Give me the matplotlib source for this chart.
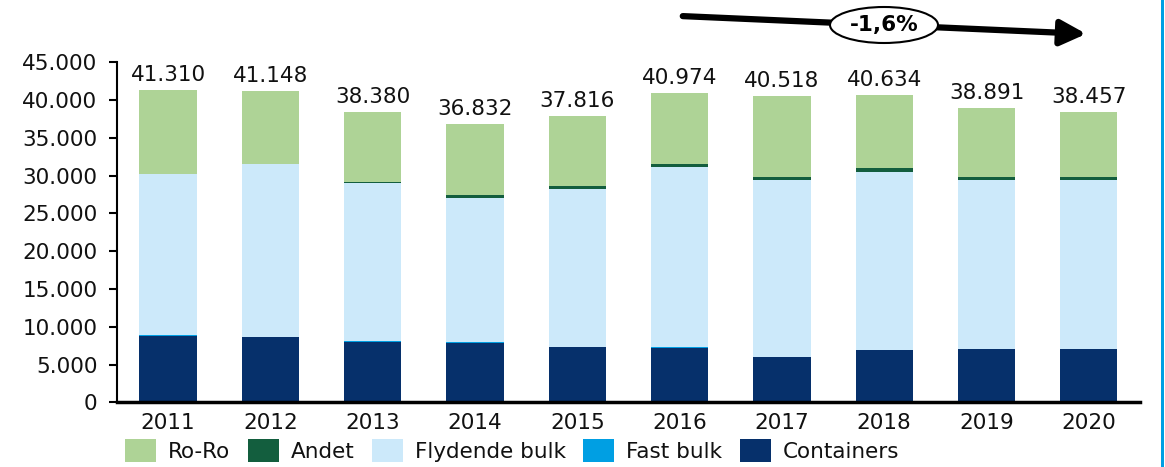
import matplotlib
matplotlib.use("Agg")
import matplotlib.pyplot as plt
from matplotlib.patches import Ellipse, FancyArrowPatch, Rectangle
from matplotlib.ticker import FuncFormatter
import numpy as np

years = ["2011", "2012", "2013", "2014", "2015", "2016", "2017", "2018", "2019", "2020"]
containers = [8830, 8650, 8030, 7800, 7280, 7240, 5960, 6880, 7060, 7020]
fast_bulk = [30, 50, 40, 150, 40, 30, 30, 30, 30, 30]
flydende_bulk = [21280, 22810, 20920, 19060, 20880, 23890, 23360, 23540, 22300, 22380]
andet = [30, 60, 100, 440, 350, 350, 480, 480, 440, 350]
ro_ro = [11140, 9578, 9290, 9382, 9266, 9464, 10688, 9704, 9061, 8677]
totals = [41310, 41148, 38380, 36832, 37816, 40974, 40518, 40634, 38891, 38457]
trend_label = "-1,6%"

series = [
    ("Containers", containers, "#06306B"),
    ("Fast bulk", fast_bulk, "#009FE3"),
    ("Flydende bulk", flydende_bulk, "#CCE9FA"),
    ("Andet", andet, "#135E3E"),
    ("Ro-Ro", ro_ro, "#AED396"),
]

FS = 15.5
plt.rcParams['font.family'] = ['DejaVu Sans']
fig = plt.figure(figsize=(11.65, 4.67), dpi=100)
ax = fig.add_axes([0.1004, 0.1385, 0.8781, 0.7285])

x = np.arange(len(years))
bottom = np.zeros(len(years))
handles = {}
for name, vals, col in series:
    b = ax.bar(x, vals, bottom=bottom, width=0.56, color=col, edgecolor="none", label=name)
    handles[name] = b
    bottom += np.array(vals)

for xi, t in zip(x, totals):
    ax.annotate(f"{t:,}".replace(",", "."), xy=(xi, t), xytext=(0, 6.5),
                textcoords="offset points", ha="center", va="baseline",
                fontsize=FS, color="#111111")

ax.set_xlim(-0.5, 9.5)
ax.set_ylim(0, 45000)
ax.set_yticks(np.arange(0, 45001, 5000))
ax.yaxis.set_major_formatter(FuncFormatter(lambda v, p: f"{int(v):,}".replace(",", ".")))
ax.set_xticks(x)
ax.set_xticklabels(years)
ax.tick_params(axis="x", length=0, labelsize=FS, pad=8, labelcolor="#111111")
ax.tick_params(axis="y", length=6, width=1.5, labelsize=FS, pad=8, direction="out",
               labelcolor="#111111")
for s in ["top", "right"]:
    ax.spines[s].set_visible(False)
ax.spines["left"].set_linewidth(1.5)
ax.spines["bottom"].set_linewidth(2.5)

order = ["Ro-Ro", "Andet", "Flydende bulk", "Fast bulk", "Containers"]
leg = fig.legend([handles[n] for n in order], order, loc="center left",
                 bbox_to_anchor=(0.0999, 1 - 450.5 / 467), ncol=5, frameon=False,
                 fontsize=FS, handlelength=1.44, handleheight=1.3,
                 handletextpad=0.55, columnspacing=0.82, borderaxespad=0,
                 labelcolor="#111111")

# trend arrow with ellipse
W, H = 1165, 467
def fx(px): return px / W
def fy(py): return 1 - py / H
arr = FancyArrowPatch((fx(680), fy(16)), (fx(1089), fy(34)), transform=fig.transFigure,
                      arrowstyle="-|>,head_length=1.1,head_width=0.55", mutation_scale=14,
                      linewidth=4.5, color="black")
fig.add_artist(arr)
ell = Ellipse((fx(884), fy(25)), width=fx(108), height=36 / H, transform=fig.transFigure,
              facecolor="white", edgecolor="black", linewidth=1.5, zorder=5)
fig.add_artist(ell)
fig.text(fx(884), fy(25), trend_label, ha="center", va="center", fontsize=FS,
         fontweight="bold", zorder=6)

# right blue border
fig.add_artist(Rectangle((fx(1161), 0), fx(3), 1, transform=fig.transFigure,
                         facecolor="#009FE3", edgecolor="none"))

fig.savefig("out.png", dpi=100)
